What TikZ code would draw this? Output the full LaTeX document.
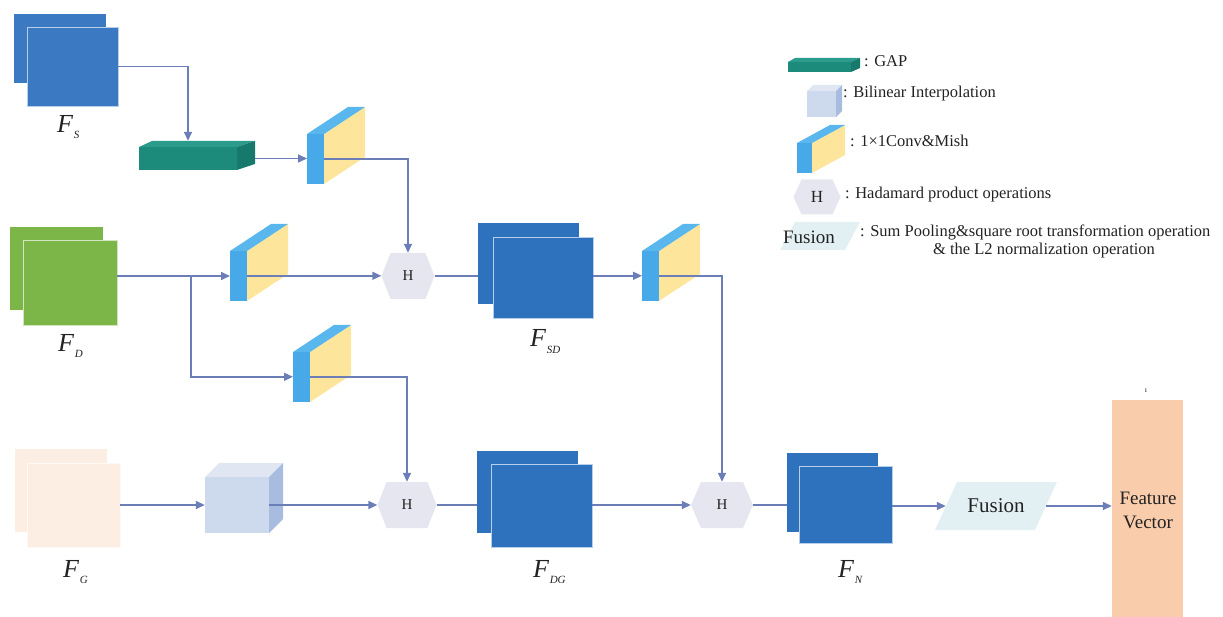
\documentclass[tikz,border=0pt]{standalone}
\usepackage{fontspec}
\setmainfont{Liberation Serif}
\usetikzlibrary{arrows.meta,fit}

\definecolor{cS}{HTML}{3B79C3}
\definecolor{cSD}{HTML}{2E72BD}
\definecolor{cD}{HTML}{7CB649}
\definecolor{cG}{HTML}{FDEEE3}
\definecolor{gapF}{HTML}{1D8B7C}
\definecolor{gapT}{HTML}{2B9B8C}
\definecolor{gapR}{HTML}{17796B}
\definecolor{convB}{HTML}{47A9E7}
\definecolor{convBt}{HTML}{5AB7EE}
\definecolor{convY}{HTML}{FDE59C}
\definecolor{cubeF}{HTML}{CDD9EC}
\definecolor{cubeT}{HTML}{E0E6F2}
\definecolor{cubeR}{HTML}{A8BCE0}
\definecolor{hexc}{HTML}{E6E6F0}
\definecolor{fusc}{HTML}{E2F0F3}
\definecolor{fvc}{HTML}{F9CCAC}
\definecolor{lnc}{HTML}{6B7EB8}
\definecolor{txt}{HTML}{222222}

% 1x1 conv block: #1,#2 lower-left corner of the front slab, #3 name,
% #4 slab width, #5 slab height, #6,#7 depth offsets
\newcommand{\convblk}[7]{%
  \fill[convY] ({#1+#4},{#2-#5}) -- ({#1+#4+#6},{#2-#5-#7}) -- ({#1+#4+#6},{#2-#7}) -- ({#1+#4},{#2}) -- cycle;
  \fill[convBt] ({#1},{#2-#5}) -- ({#1+#6},{#2-#5-#7}) -- ({#1+#4+#6},{#2-#5-#7}) -- ({#1+#4},{#2-#5}) -- cycle;
  \node[fill=convB, inner sep=0pt, minimum width=#4, minimum height=#5, anchor=south west] (#3) at (#1,#2) {};
}
% stretched hexagon: centre #1,#2, half width #3, half height #4, corner inset #5
\newcommand{\hexat}[5]{%
  \fill[hexc] ({#1-#3},{#2}) -- ({#1-#3+#5},{#2-#4}) -- ({#1+#3-#5},{#2-#4}) -- ({#1+#3},{#2})
    -- ({#1+#3-#5},{#2+#4}) -- ({#1-#3+#5},{#2+#4}) -- cycle;
}
% feature-map label F with a small lowered subscript
\newcommand{\fsub}[2]{\textit{#1}\kern0.5pt\raisebox{-6pt}{\fontsize{11}{11}\selectfont\textit{#2}}}

\begin{document}
\begin{tikzpicture}[x=1pt,y=-1pt,
  conn/.style={draw=lnc, line width=1.6pt},
  arr/.style={conn, -{Triangle[length=9pt,width=8pt]}},
  fmap/.style={fill=#1, draw=white!65!#1, line width=0.7pt, inner sep=0pt},
  fback/.style={fill=#1, inner sep=0pt},
  flabel/.style={anchor=base west, inner sep=0pt, text=txt, font=\fontsize{26}{26}\selectfont},
  hextxt/.style={inner sep=0pt, text=txt, font=\fontsize{15}{15}\selectfont},
  legtxt/.style={anchor=base west, inner sep=0pt, text=txt, font=\fontsize{16.5}{19}\selectfont},
]
\useasboundingbox (0,0) rectangle (1223,617);

% ---------- feature maps ----------
\node[fback=cS, fit={(14,14) (106,83)}] (fsb) {};
\node[fmap=cS, fit={(27,27) (118,106)}] (fs) {};
\node[flabel] (lfs) at (57,133) {\fsub{F}{S}};

\node[fback=cD, fit={(10,227) (103,310)}] (fdb) {};
\node[fmap=cD, fit={(23,240) (117,325)}] (fd) {};
\node[flabel] (lfd) at (58,352) {\fsub{F}{D}};

\node[fback=cG, fit={(15,449) (107,532)}] (fgb) {};
\node[fmap=cG, fit={(27,463) (120,547)}] (fg) {};
\node[flabel] (lfg) at (63,577) {\fsub{F}{G}};

\node[fback=cSD, fit={(478,223) (579,304)}] (fsdb) {};
\node[fmap=cSD, fit={(493,237) (593,318)}] (fsd) {};
\node[flabel] (lfsd) at (530,347) {\fsub{F}{SD}};

\node[fback=cSD, fit={(477,451) (578,533)}] (fdgb) {};
\node[fmap=cSD, fit={(491,464) (592,547)}] (fdg) {};
\node[flabel] (lfdg) at (533,577) {\fsub{F}{DG}};

\node[fback=cSD, fit={(787,453) (878,532)}] (fnb) {};
\node[fmap=cSD, fit={(799,466) (892,543)}] (fn) {};
\node[flabel] (lfn) at (838,577) {\fsub{F}{N}};

% ---------- GAP block ----------
\fill[gapT] (139,147) -- (152,141) -- (255,141) -- (237,147) -- cycle;
\fill[gapR] (237,147) -- (255,141) -- (255,164) -- (237,170) -- cycle;
\node[fill=gapF, inner sep=0pt, fit={(139,147) (237,170)}] (gap) {};

% ---------- bilinear interpolation cube ----------
\fill[cubeT] (205,477) -- (219,463) -- (283,463) -- (269,477) -- cycle;
\fill[cubeR] (269,477) -- (283,463) -- (283,519) -- (269,533) -- cycle;
\node[fill=cubeF, inner sep=0pt, fit={(205,477) (269,533)}] (cube) {};

% ---------- 1x1 conv blocks ----------
\convblk{307}{184}{c1}{17}{50}{41}{27}
\convblk{230}{301}{c2}{17}{50}{41}{27}
\convblk{293}{402}{c3}{17}{50}{41}{27}
\convblk{642}{301}{c4}{17}{50}{41}{27}

% ---------- Hadamard product nodes ----------
\hexat{408}{276}{26.5}{23}{9}
\node[hextxt, minimum width=53, minimum height=46] (h1) at (408,276) {H};
\hexat{407}{505}{29.5}{23}{9}
\node[hextxt, minimum width=59, minimum height=46] (h2) at (407,505) {H};
\hexat{722}{505}{31}{23}{10}
\node[hextxt, minimum width=62, minimum height=46] (h3) at (722,505) {H};

% ---------- fusion and output vector ----------
\fill[fusc] (935,530) -- (957,482) -- (1057,482) -- (1035,530) -- cycle;
\node[inner sep=0pt, minimum width=100, minimum height=48, text=txt,
      font=\fontsize{21}{21}\selectfont] (fus) at (996,506) {Fusion};
\node[fill=fvc, inner sep=0pt, fit={(1112,400) (1183,620)}] (fv) {};
\node[align=center, text=txt, font=\fontsize{19}{24}\selectfont] (fvt) at (1148,510) {Feature\\Vector};
\node[inner sep=0pt, text=txt, font=\fontsize{8}{8}\selectfont] (fvm) at (1146,391) {ı};

% ---------- connectors ----------
\draw[arr] (fs.east) -| ([yshift=6pt]gap.north);
\draw[arr] ([xshift=18pt]gap.east) -- (gap.east -| c1.west);
\draw[arr] (c1.east) -| (h1.north);

\coordinate (fdout) at ([yshift=6.5pt]fd.east);
\coordinate (br) at (191,276);
\draw[arr] (fdout) -- (fdout -| c2.west);
\draw[arr] (br) |- (c3.west);
\draw[arr] (c2.east) -- (c2.east -| h1.west);
\draw[arr] (c3.east) -| (h2.north);

\draw[conn] (h1.east) -- (h1.east -| fsdb.west);
\draw[arr] (fsd.east |- c4.west) -- (c4.west);
\draw[arr] (c4.east) -| (h3.north);

\draw[arr] (fg.east) -- (cube.west);
\draw[arr] (cube.east) -- (h2.west);
\draw[conn] (h2.east) -- (h2.east -| fdgb.west);
\draw[arr] (fdg.east |- h3.west) -- (h3.west);
\draw[conn] (h3.east) -- (h3.east -| fnb.west);
\draw[arr] (fn.east |- fus.west) -- (fus.west);
\draw[arr] (fus.east) -- (fus.east -| fv.west);

% ---------- legend ----------
\fill[gapT] (788,62) -- (795,58) -- (860,58) -- (851,62) -- cycle;
\fill[gapR] (851,62) -- (860,58) -- (860,68) -- (851,72) -- cycle;
\node[fill=gapF, inner sep=0pt, fit={(788,62) (851,72)}] (lgap) {};
\node[legtxt] (tgap) at (864,67) {: GAP};

\fill[cubeT] (807,91) -- (813,85) -- (842,85) -- (836,91) -- cycle;
\fill[cubeR] (836,91) -- (842,85) -- (842,111) -- (836,117) -- cycle;
\node[fill=cubeF, inner sep=0pt, fit={(807,91) (836,117)}] (lcube) {};
\node[legtxt] (tcube) at (843,98) {: Bilinear Interpolation};

\convblk{797}{173}{lconv}{15}{30}{33}{18}
\node[legtxt] (tconv) at (850,147) {: 1×1Conv\&Mish};

\hexat{817}{197}{23.5}{17.5}{8}
\node[hextxt, font=\fontsize{17}{17}\selectfont, minimum width=47, minimum height=35] (lhex) at (817,197) {H};
\node[legtxt] (thex) at (845,199) {: Hadamard product operations};

\fill[fusc] (780,250) -- (795,222) -- (860,222) -- (845,250) -- cycle;
\node[inner sep=0pt, text=txt, font=\fontsize{19}{19}\selectfont] (lfus) at (809,237) {Fusion};
\node[legtxt] (tfus1) at (860,237) {: Sum Pooling\&square root transformation operation};
\node[legtxt, anchor=base] (tfus2) at (1044,255) {\& the L2 normalization operation};
\end{tikzpicture}
\end{document}
